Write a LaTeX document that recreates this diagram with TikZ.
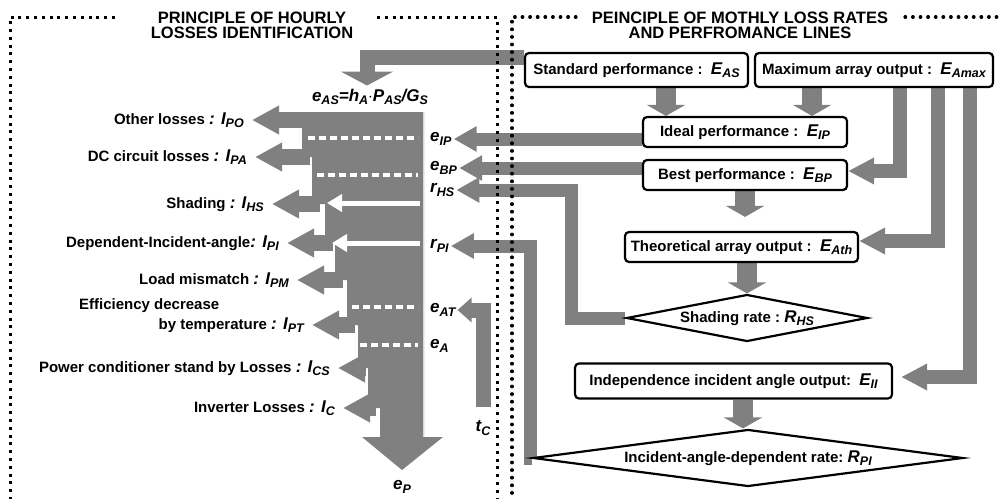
\documentclass[tikz,border=0pt]{standalone}
\usepackage{fontspec}
\setmainfont{Liberation Sans}
\usetikzlibrary{arrows.meta,shapes.geometric,backgrounds,calc,positioning}

\definecolor{flowgray}{RGB}{128,128,128}

% italic quantity with subscript
\newcommand{\lsym}[2]{{\fontsize{17}{17}\selectfont\itshape #1{\fontsize{12.5}{12}\selectfont\raisebox{-3.5pt}{#2}}}}

\tikzset{
  headline/.style={font=\bfseries\fontsize{16.5}{15}\selectfont, align=center, inner sep=0pt},
  loss/.style={font=\bfseries\fontsize{15}{16}\selectfont, anchor=east, inner xsep=8pt, inner ysep=1pt},
  rate/.style={font=\bfseries, anchor=west, inner xsep=2pt, inner ysep=1pt},
  perfbox/.style={draw, line width=2.2pt, rounded corners=4pt, fill=white, inner sep=0pt,
    minimum height=30pt, font=\bfseries\fontsize{15}{16}\selectfont},
  ratebox/.style={draw, diamond, line width=2.2pt, fill=white, inner sep=0pt,
    font=\bfseries\fontsize{15}{16}\selectfont},
  down/.style={draw=flowgray, line width=20pt, -{Triangle[length=11pt,width=38pt]}},
  side/.style={draw=flowgray, line width=14pt, line join=miter, -{Triangle[length=26pt,width=25pt]}},
  feed/.style={draw=flowgray, line width=13pt, line join=miter, -{Triangle[length=23pt,width=24pt]}},
  drain/.style={draw=flowgray, line width=16pt, -{Triangle[length=27pt,width=27pt]}},
  gain/.style={draw=white, line width=5pt, -{Triangle[length=15pt,width=17pt]}},
  split/.style={draw=white, line width=4pt, dash pattern=on 7pt off 4pt},
  dotframe/.style={line width=3.2pt, line cap=round, dash pattern=on 0.6pt off 7pt},
  sqframe/.style={line width=3pt, dash pattern=on 3pt off 4.8pt},
}

\begin{document}
\begin{tikzpicture}[x=1pt,y=-1pt]
\useasboundingbox (0,0) rectangle (1007,499);

% headings and frames
\node[headline] (lhead) at (252,25) {PRINCIPLE OF HOURLY\\LOSSES IDENTIFICATION};
\node[headline] (rhead) at (740,25) {PEINCIPLE OF MOTHLY LOSS RATES\\AND PERFROMANCE LINES};
\draw[sqframe] (115,17) -- (10,17) -- (10,499);
\draw[sqframe] (377,17) -- (497,17) -- (497,499);
\draw[dotframe] (576,17) -- (512,17) -- (512,499);
\draw[dotframe] (905,17) -- (1003,17);

% monthly performance lines
\node[perfbox, minimum width=223pt, minimum height=34pt] (std) at (636.5,70) {Standard performance :~~\lsym{E}{AS}};
\node[perfbox, minimum width=238pt, minimum height=34pt] (amax) at (874,70) {Maximum array output :~~\lsym{E}{Amax}};
\node[perfbox, minimum width=204pt] (ideal) at (745,132) {Ideal performance :~~\lsym{E}{IP}};
\node[perfbox, minimum width=204pt] (best) at (745,175) {Best performance :~~\lsym{E}{BP}};
\node[perfbox, minimum width=233pt] (theo) at (741.5,247) {Theoretical array output :~~\lsym{E}{Ath}};
\node[ratebox, aspect=5.1, minimum width=241pt, minimum height=47pt] (shr) at (747,318) {Shading rate :~\lsym{R}{HS}};
\node[perfbox, minimum width=317pt, minimum height=35pt] (indep) at (733.5,381) {Independence incident angle output:~~\lsym{E}{II}};
\node[ratebox, aspect=7.5, minimum width=430pt, minimum height=57pt] (iadr) at (748,458) {Incident-angle-dependent rate:~\lsym{R}{PI}};

% hourly quantities
\node[font=\bfseries] (eas) at (370,97) {\lsym{e}{AS}\lsym{=h}{A}\lsym{$\cdot$P}{AS}\lsym{/G}{S}};
\node[rate] (eip) at (428,139) {\lsym{e}{IP}};
\node[rate] (ebp) at (428,168) {\lsym{e}{BP}};
\node[rate] (rhs) at (428,190) {\lsym{r}{HS}};
\node[rate] (rpi) at (428,246) {\lsym{r}{PI}};
\node[rate] (eat) at (428,310) {\lsym{e}{AT}};
\node[rate] (ea) at (428,346) {\lsym{e}{A}};
\node[font=\bfseries] (tc) at (483,428) {\lsym{t}{C}};
\node[font=\bfseries] (ep) at (402,487) {\lsym{e}{P}};

% losses
\node[loss] (lpo) at (252,120) {Other losses \lsym{: I}{PO}};
\node[loss] (lpa) at (255,157) {DC circuit losses \lsym{: I}{PA}};
\node[loss] (lhs) at (272,204) {Shading \lsym{: I}{HS}};
\node[loss] (lpi) at (287,243) {Dependent-Incident-angle\lsym{: I}{PI}};
\node[loss] (lpm) at (297,280) {Load mismatch \lsym{: I}{PM}};
\node[loss] (lpt) at (312,325) {by temperature \lsym{: I}{PT}};
\node[loss, anchor=west, inner xsep=0pt] (lpt1) at (79,306) {Efficiency decrease};
\node[loss] (lcs) at (338,368) {Power conditioner stand by Losses \lsym{: I}{CS}};
\node[loss] (lc) at (343,408) {Inverter Losses \lsym{: I}{C}};

\coordinate (eashook) at (367,57);
\coordinate (bendhs) at (571,190);
\coordinate (bendpi) at (530,246);
\coordinate (m1) at (900,171);
\coordinate (m2) at (938,241);
\coordinate (m3) at (970,377);

\begin{scope}[on background layer]
  \fill[white] (0,0) rectangle (1007,499);
  % hourly flow
  \fill[flowgray] (424,112) -- (302,112) -- (302,157) -- (312,157) -- (312,204) -- (325,204)
    -- (325,243) -- (335,243) -- (335,280) -- (347,280) -- (347,325) -- (358,325)
    -- (358,368) -- (368,368) -- (368,408) -- (380,408) -- (380,437) -- (362,437)
    -- (402,470) -- (443,437) -- (424,437) -- cycle;
  \draw[gray!30, line width=1.5pt] (423.5,112) -- (423.5,437);
  \draw[drain] (310,120) -- (lpo.east);
  \draw[drain] (310,157) -- (lpa.east);
  \draw[drain] (320,204) -- (lhs.east);
  \draw[drain] (333,243) -- (lpi.east);
  \draw[drain] (343,280) -- (lpm.east);
  \draw[drain] (355,325) -- (lpt.east);
  \draw[drain] (366,368) -- (lcs.east);
  \draw[drain] (376,408) -- (lc.east);
  \draw[split] (308,138) -- (418,138);
  \draw[split] (317,175) -- (418,175);
  \draw[split] (352,307) -- (418,307);
  \draw[split] (360,345) -- (418,345);
  \draw[gain] (420,203) -- (327,203);
  \draw[gain] (420,243) -- (332,243);

  % monthly lines feeding the hourly flow
  \draw[feed, line width=15pt, -{Triangle[length=14pt,width=52pt]}]
    (std.west |- eashook) -- (eashook) -- (eashook |- eas.north);
  \draw[feed] (ideal.west |- eip.east) -- (eip.east);
  \draw[feed] (best.west |- ebp.east) -- (ebp.east);
  \draw[feed] (shr.west) -| (bendhs) -- (rhs.east);
  \draw[feed] (iadr.west) -| (bendpi) -- (rpi.east);
  \draw[feed, line width=15pt, -{Triangle[length=14pt,width=24pt]}]
    ([yshift=10pt]tc.north) |- (eat.east);

  % monthly chain
  \draw[down] ([xshift=29.5pt]std.south) -- ([xshift=29.5pt]std.south |- ideal.north);
  \draw[down] ([xshift=-62pt]amax.south) -- ([xshift=-62pt]amax.south |- ideal.north);
  \draw[down] (best.south) -- ([yshift=14pt]best.south |- theo.north);
  \draw[down] (shr.north |- theo.south) -- (shr.north);
  \draw[down] ([xshift=9.5pt]indep.south) -- ([xshift=9.5pt]indep.south |- iadr.north);
  \draw[side] (amax.south -| m1) |- (best.east |- m1);
  \draw[side] (amax.south -| m2) |- (theo.east |- m2);
  \draw[side] (amax.south -| m3) |- ([xshift=8pt]indep.east |- m3);
\end{scope}
\end{tikzpicture}
\end{document}
